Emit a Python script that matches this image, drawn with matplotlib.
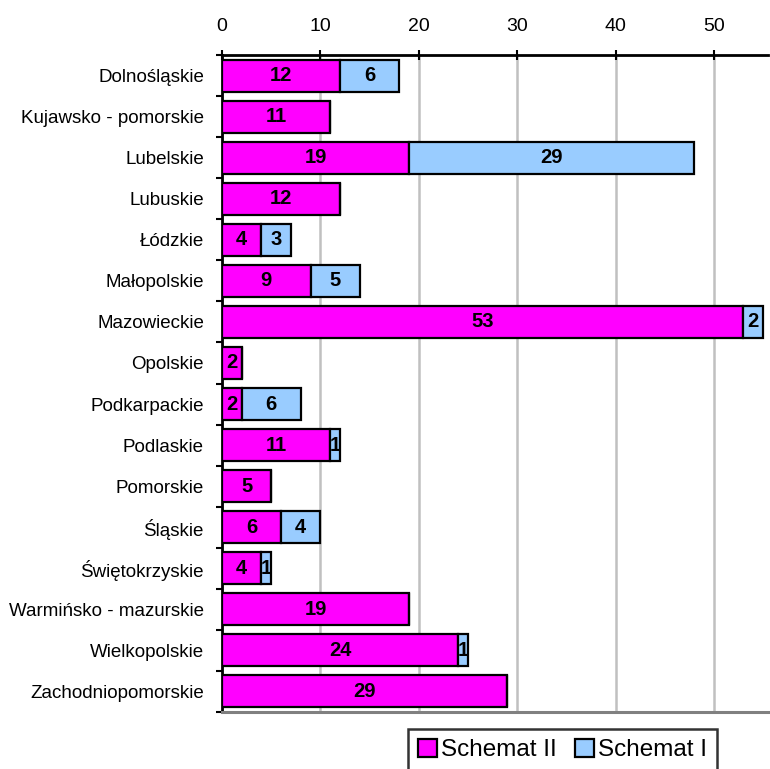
import matplotlib
matplotlib.use("Agg")
import matplotlib.pyplot as plt
import numpy as np

plt.rcParams['font.family'] = ['Liberation Sans', 'DejaVu Sans']

categories = ["Dolnośląskie", "Kujawsko - pomorskie", "Lubelskie", "Lubuskie", "Łódzkie",
              "Małopolskie", "Mazowieckie", "Opolskie", "Podkarpackie", "Podlaskie",
              "Pomorskie", "Śląskie", "Świętokrzyskie", "Warmińsko - mazurskie",
              "Wielkopolskie", "Zachodniopomorskie"]
schemat_ii = [12, 11, 19, 12, 4, 9, 53, 2, 2, 11, 5, 6, 4, 19, 24, 29]
schemat_i = [6, 0, 29, 0, 3, 5, 2, 0, 6, 1, 0, 4, 1, 0, 1, 0]
xticks = [0, 10, 20, 30, 40, 50]

fig = plt.figure(figsize=(7.7, 7.69), dpi=100)
ax = fig.add_axes([222/770, 1-712/769, (768-222)/770, (712-55)/769])

y = np.arange(len(categories))
h = 0.78
b1 = ax.barh(y, schemat_ii, height=h, color='#FF00FF', edgecolor='black', linewidth=1.6,
             label='Schemat II', zorder=3)
b2 = ax.barh(y, schemat_i, left=schemat_ii, height=h, color='#99CCFF', edgecolor='black',
             linewidth=1.6, label='Schemat I', zorder=3)

for i in range(len(categories)):
    if schemat_ii[i] > 0:
        ax.text(schemat_ii[i]/2, y[i], str(schemat_ii[i]), ha='center', va='center',
                fontsize=14.5, fontweight='bold', zorder=4)
    if schemat_i[i] > 0:
        ax.text(schemat_ii[i] + schemat_i[i]/2, y[i], str(schemat_i[i]), ha='center',
                va='center', fontsize=14.5, fontweight='bold', zorder=4)

ax.set_xlim(0, 55.5)
ax.set_ylim(len(categories) - 0.5, -0.5)
ax.xaxis.tick_top()
ax.set_xticks(xticks)
ax.set_xticklabels([str(t) for t in xticks], fontsize=14)
ax.tick_params(axis='x', direction='inout', length=7, width=1.5, pad=11)
ax.set_yticks(y)
ax.set_yticklabels(categories, fontsize=13.5)
ax.tick_params(axis='y', length=0, pad=13)
ax.set_yticks(np.arange(len(categories) + 1) - 0.5, minor=True)
ax.tick_params(axis='y', which='minor', length=4, width=1.5, direction='out')
ax.grid(axis='x', color='#c0c0c0', linewidth=1.8, zorder=0)
ax.set_axisbelow(True)
ax.spines['right'].set_visible(False)
ax.spines['bottom'].set_color('#808080')
ax.spines['bottom'].set_linewidth(2.2)
ax.spines['top'].set_linewidth(2)
ax.spines['left'].set_linewidth(2)

leg = fig.legend(handles=[b1, b2], loc='upper left', bbox_to_anchor=(408/770, 1-729/769),
                 ncol=2, frameon=True, fancybox=False, fontsize=17.5, handlelength=0.8,
                 handleheight=0.8, handletextpad=0.15, columnspacing=0.75, borderpad=0.4,
                 borderaxespad=0)
leg.get_frame().set_edgecolor('black')
leg.get_frame().set_linewidth(1.8)

fig.savefig('out.png', dpi=100)
